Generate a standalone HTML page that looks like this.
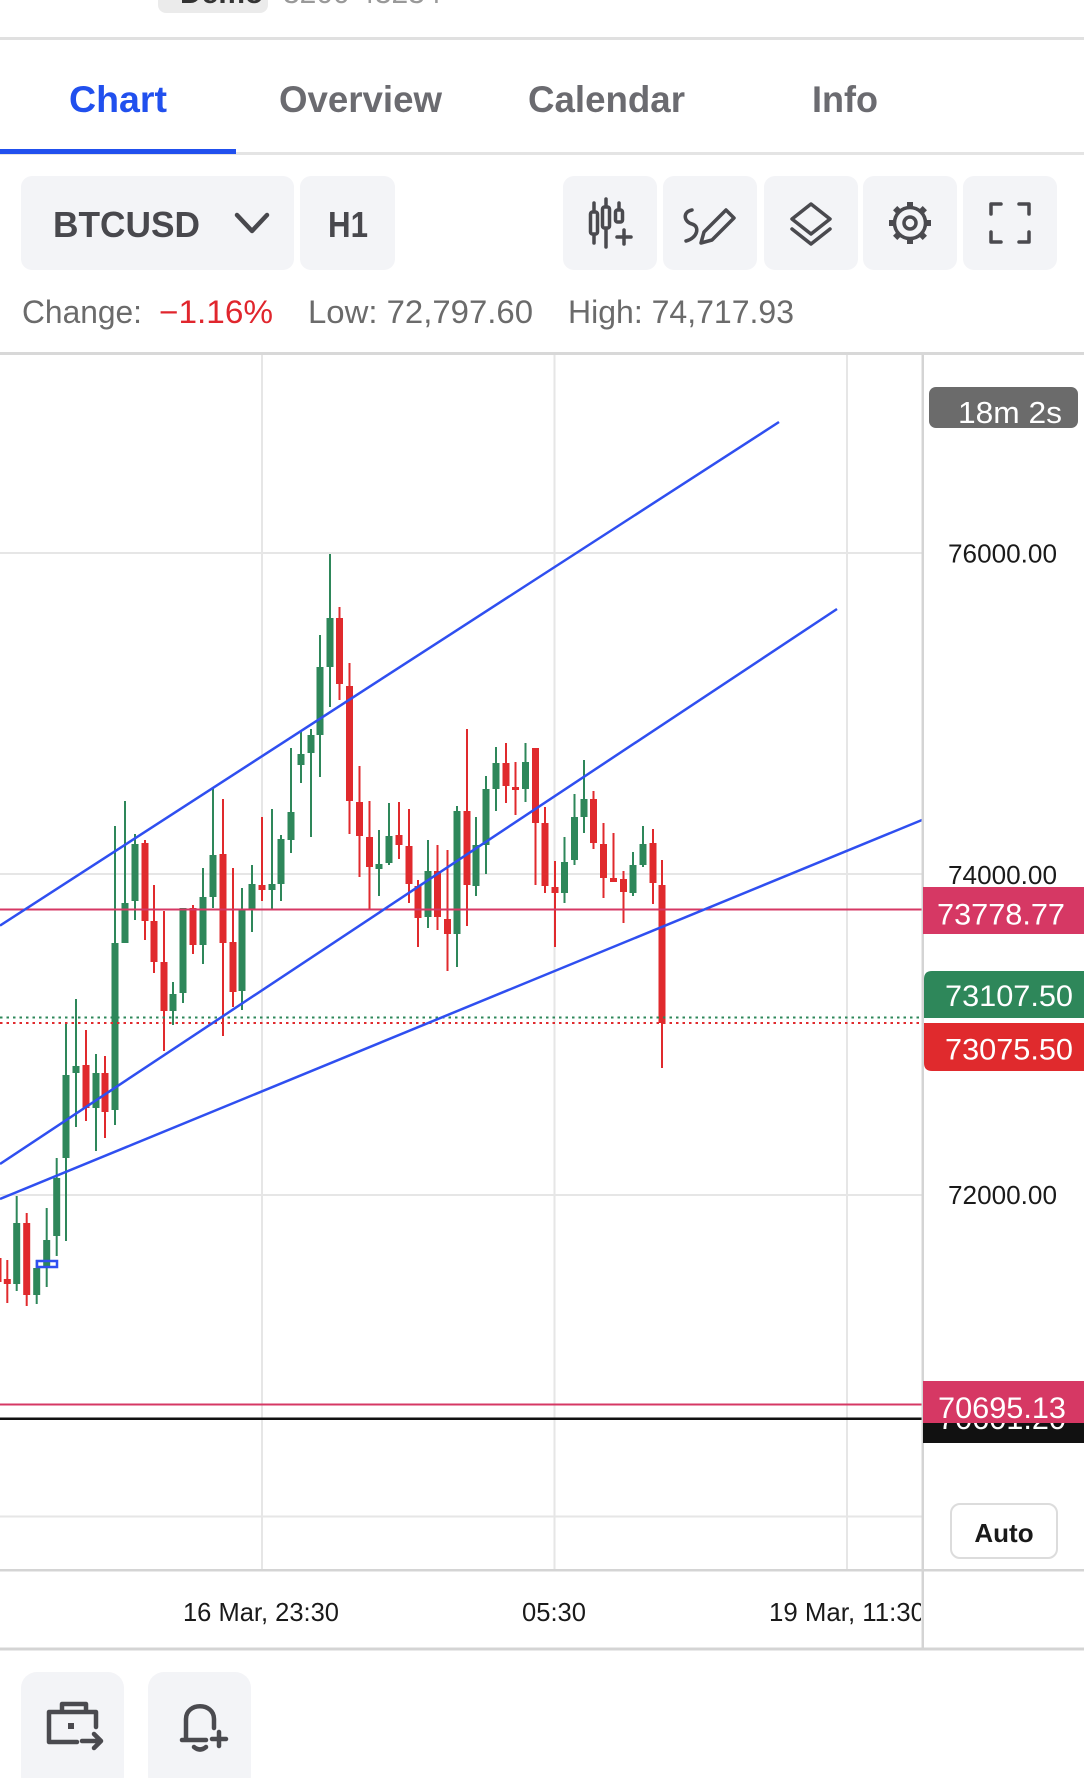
<!DOCTYPE html>
<html><head><meta charset="utf-8"><style>
html,body{margin:0;padding:0;background:#fff;}
svg{display:block;font-family:"Liberation Sans",Arial,sans-serif;}
</style></head><body>
<svg width="1084" height="1778" viewBox="0 0 1084 1778" xmlns="http://www.w3.org/2000/svg">
<rect x="0" y="0" width="1084" height="1778" fill="#fff"/>
<!-- top header remnants -->
<rect x="158" y="-12" width="110" height="25" rx="8" fill="#ebebeb"/>
<text x="180" y="3" font-size="30" font-weight="bold" fill="#333">Demo</text>
<text x="283" y="3" font-size="30" fill="#999">3200 43234</text>
<rect x="0" y="37" width="1084" height="3" fill="#e0e0e0"/>
<!-- tabs -->
<text x="69" y="112" font-size="37" font-weight="bold" fill="#2150ee" textLength="98" lengthAdjust="spacingAndGlyphs">Chart</text>
<text x="279" y="112" font-size="37" font-weight="bold" fill="#6b6b70" textLength="163" lengthAdjust="spacingAndGlyphs">Overview</text>
<text x="528" y="112" font-size="37" font-weight="bold" fill="#6b6b70" textLength="157" lengthAdjust="spacingAndGlyphs">Calendar</text>
<text x="812" y="112" font-size="37" font-weight="bold" fill="#6b6b70" textLength="66" lengthAdjust="spacingAndGlyphs">Info</text>
<rect x="0" y="152" width="1084" height="3" fill="#e4e4e4"/>
<rect x="0" y="149" width="236" height="5" fill="#2150ee"/>
<!-- toolbar -->
<rect x="21" y="176" width="273" height="94" rx="11" fill="#f3f4f7"/>
<text x="53" y="237" font-size="36" font-weight="bold" fill="#48484d" textLength="147" lengthAdjust="spacingAndGlyphs">BTCUSD</text>
<polyline points="237,215 252,231 267,215" fill="none" stroke="#48484d" stroke-width="4.5" stroke-linecap="round" stroke-linejoin="round"/>
<rect x="300" y="176" width="95" height="94" rx="11" fill="#f3f4f7"/>
<text x="328" y="237" font-size="36" font-weight="bold" fill="#48484d" textLength="40" lengthAdjust="spacingAndGlyphs">H1</text>
<rect x="563" y="176" width="94" height="94" rx="11" fill="#f3f4f7"/>
<rect x="663" y="176" width="94" height="94" rx="11" fill="#f3f4f7"/>
<rect x="764" y="176" width="94" height="94" rx="11" fill="#f3f4f7"/>
<rect x="863" y="176" width="94" height="94" rx="11" fill="#f3f4f7"/>
<rect x="963" y="176" width="94" height="94" rx="11" fill="#f3f4f7"/>
<g fill="none" stroke="#4a4a4f" stroke-width="3.5" stroke-linecap="round" stroke-linejoin="round">
  <!-- candles icon -->
  <line x1="594" y1="203" x2="594" y2="211"/><line x1="594" y1="235" x2="594" y2="243"/><rect x="590.5" y="212" width="7" height="22" rx="2"/>
  <line x1="606" y1="199" x2="606" y2="206"/><line x1="606" y1="229" x2="606" y2="247"/><rect x="602.5" y="207" width="7" height="21" rx="2"/>
  <line x1="619" y1="203" x2="619" y2="209"/><rect x="615.5" y="210" width="7" height="12" rx="2"/>
  <line x1="617" y1="237" x2="631" y2="237"/><line x1="624" y1="230" x2="624" y2="244"/>
  <!-- pencil icon -->
  <polygon points="701,243 704,232 726,210 734,218 712,240"/>
  <path d="M692 210 C682 212 684 222 692 224 C700 226 698 238 686 241"/>
  <!-- layers icon -->
  <polygon points="811,204 830,219 811,234 792,219"/>
  <polyline points="792,229 811,244 830,229"/>
  <!-- gear icon -->
  <circle cx="910" cy="223" r="15.5"/>
  <circle cx="910" cy="223" r="6"/>
  <!-- fullscreen icon -->
  <polyline points="991,214 991,204 1001,204"/>
  <polyline points="1019,204 1029,204 1029,214"/>
  <polyline points="991,232 991,242 1001,242"/>
  <polyline points="1019,242 1029,242 1029,232"/>
</g>
<g fill="#4a4a4f">
  <rect x="907" y="202" width="6" height="6" transform="rotate(0 910 223)"/>
  <rect x="907" y="202" width="6" height="6" transform="rotate(45 910 223)"/>
  <rect x="907" y="202" width="6" height="6" transform="rotate(90 910 223)"/>
  <rect x="907" y="202" width="6" height="6" transform="rotate(135 910 223)"/>
  <rect x="907" y="202" width="6" height="6" transform="rotate(180 910 223)"/>
  <rect x="907" y="202" width="6" height="6" transform="rotate(225 910 223)"/>
  <rect x="907" y="202" width="6" height="6" transform="rotate(270 910 223)"/>
  <rect x="907" y="202" width="6" height="6" transform="rotate(315 910 223)"/>
</g>
<!-- change row -->
<text x="22" y="323" font-size="32" fill="#6b6b6b" textLength="120" lengthAdjust="spacingAndGlyphs">Change:</text>
<text x="159" y="323" font-size="32" fill="#e0262d" textLength="114" lengthAdjust="spacingAndGlyphs">−1.16%</text>
<text x="308" y="323" font-size="32" fill="#6b6b6b" textLength="225" lengthAdjust="spacingAndGlyphs">Low: 72,797.60</text>
<text x="568" y="323" font-size="32" fill="#6b6b6b" textLength="226" lengthAdjust="spacingAndGlyphs">High: 74,717.93</text>
<!-- chart frame -->
<rect x="0" y="352" width="1084" height="3" fill="#d8d8d8"/>
<g fill="#e6e6e6">
  <rect x="261" y="355" width="2" height="1215"/>
  <rect x="553.5" y="355" width="2" height="1215"/>
  <rect x="846" y="355" width="2" height="1215"/>
  <rect x="0" y="552" width="922" height="2"/>
  <rect x="0" y="873" width="922" height="2"/>
  <rect x="0" y="1194" width="922" height="2"/>
  <rect x="0" y="1515.5" width="922" height="2"/>
</g>
<!-- candles green -->
<g fill="#2e875a">
<rect x="15.7" y="1196" width="2" height="95"/><rect x="13.2" y="1223" width="7" height="61"/>
<rect x="35.7" y="1260" width="2" height="44"/><rect x="33.2" y="1268" width="7" height="27"/>
<rect x="45.7" y="1208" width="2" height="79"/><rect x="43.2" y="1240" width="7" height="28"/>
<rect x="55.7" y="1158" width="2" height="98"/><rect x="53.2" y="1178" width="7" height="58"/>
<rect x="65" y="1024" width="2" height="217"/><rect x="62.5" y="1075" width="7" height="83"/>
<rect x="75" y="999" width="2" height="128"/><rect x="72.5" y="1066" width="7" height="7"/>
<rect x="95" y="1054" width="2" height="97"/><rect x="92.5" y="1073" width="7" height="35"/>
<rect x="114" y="826" width="2" height="299"/><rect x="111.5" y="943" width="7" height="167"/>
<rect x="124" y="801" width="2" height="142"/><rect x="121.5" y="903" width="7" height="40"/>
<rect x="134" y="834" width="2" height="86"/><rect x="131.5" y="844" width="7" height="57"/>
<rect x="172" y="982" width="2" height="43"/><rect x="169.5" y="994" width="7" height="17"/>
<rect x="182" y="908" width="2" height="95"/><rect x="179.5" y="908" width="7" height="85"/>
<rect x="202" y="868" width="2" height="96"/><rect x="199.5" y="897" width="7" height="48"/>
<rect x="212" y="788" width="2" height="120"/><rect x="209.5" y="855" width="7" height="42"/>
<rect x="241" y="888" width="2" height="122"/><rect x="238.5" y="910" width="7" height="81"/>
<rect x="251" y="865" width="2" height="67"/><rect x="248.5" y="884" width="7" height="26"/>
<rect x="271" y="809" width="2" height="101"/><rect x="268.5" y="884" width="7" height="6"/>
<rect x="280" y="835" width="2" height="66"/><rect x="277.5" y="839" width="7" height="45"/>
<rect x="290" y="748" width="2" height="105"/><rect x="287.5" y="812" width="7" height="28"/>
<rect x="300" y="732" width="2" height="51"/><rect x="297.5" y="754" width="7" height="11"/>
<rect x="310" y="729" width="2" height="108"/><rect x="307.5" y="735" width="7" height="18"/>
<rect x="319" y="635" width="2" height="142"/><rect x="316.5" y="667" width="7" height="68"/>
<rect x="329" y="554" width="2" height="153"/><rect x="326.5" y="618" width="7" height="49"/>
<rect x="378" y="830" width="2" height="66"/><rect x="375.5" y="864" width="7" height="5"/>
<rect x="388" y="803" width="2" height="62"/><rect x="385.5" y="836" width="7" height="27"/>
<rect x="427" y="840" width="2" height="88"/><rect x="424.5" y="871" width="7" height="46"/>
<rect x="456" y="806" width="2" height="161"/><rect x="453.5" y="811" width="7" height="123"/>
<rect x="475" y="817" width="2" height="79"/><rect x="472.5" y="845" width="7" height="41"/>
<rect x="485" y="776" width="2" height="98"/><rect x="482.5" y="789" width="7" height="56"/>
<rect x="495" y="747" width="2" height="64"/><rect x="492.5" y="763" width="7" height="26"/>
<rect x="524.5" y="743" width="2" height="59"/><rect x="522" y="762" width="7" height="27"/>
<rect x="563.5" y="837" width="2" height="66"/><rect x="561" y="862" width="7" height="31"/>
<rect x="573.5" y="794" width="2" height="71"/><rect x="571" y="817" width="7" height="43"/>
<rect x="583" y="760" width="2" height="73"/><rect x="580.5" y="799" width="7" height="18"/>
<rect x="632" y="852" width="2" height="44"/><rect x="629.5" y="865" width="7" height="28"/>
<rect x="642" y="826" width="2" height="41"/><rect x="639.5" y="844" width="7" height="21"/>
</g>
<!-- candles red -->
<g fill="#e02a2d">
<rect x="-3" y="1240" width="2" height="58"/><rect x="-5.5" y="1258" width="7" height="24"/>
<rect x="6.3" y="1260" width="2" height="43"/><rect x="3.8" y="1279" width="7" height="5"/>
<rect x="25.7" y="1213" width="2" height="93"/><rect x="23.2" y="1223" width="7" height="72"/>
<rect x="85" y="1030" width="2" height="91"/><rect x="82.5" y="1065" width="7" height="43"/>
<rect x="104" y="1056" width="2" height="82"/><rect x="101.5" y="1073" width="7" height="39"/>
<rect x="144" y="840" width="2" height="100"/><rect x="141.5" y="843" width="7" height="78"/>
<rect x="153" y="885" width="2" height="88"/><rect x="150.5" y="921" width="7" height="41"/>
<rect x="163" y="911" width="2" height="140"/><rect x="160.5" y="962" width="7" height="49"/>
<rect x="192" y="905" width="2" height="49"/><rect x="189.5" y="908" width="7" height="37"/>
<rect x="222" y="799" width="2" height="237"/><rect x="219.5" y="854" width="7" height="89"/>
<rect x="232" y="868" width="2" height="139"/><rect x="229.5" y="942" width="7" height="50"/>
<rect x="261" y="817" width="2" height="84"/><rect x="258.5" y="885" width="7" height="5"/>
<rect x="338.5" y="607" width="2" height="93"/><rect x="336" y="618" width="7" height="66"/>
<rect x="348.5" y="663" width="2" height="171"/><rect x="346" y="686" width="7" height="115"/>
<rect x="358.5" y="766" width="2" height="111"/><rect x="356" y="802" width="7" height="34"/>
<rect x="368.5" y="801" width="2" height="109"/><rect x="366" y="837" width="7" height="30"/>
<rect x="398" y="802" width="2" height="57"/><rect x="395.5" y="835" width="7" height="10"/>
<rect x="408" y="809" width="2" height="94"/><rect x="405.5" y="846" width="7" height="38"/>
<rect x="417" y="880" width="2" height="67"/><rect x="414.5" y="886" width="7" height="32"/>
<rect x="436.5" y="845" width="2" height="85"/><rect x="434" y="871" width="7" height="46"/>
<rect x="446.5" y="850" width="2" height="121"/><rect x="444" y="919" width="7" height="15"/>
<rect x="466" y="729" width="2" height="197"/><rect x="463.5" y="811" width="7" height="74"/>
<rect x="505" y="743" width="2" height="60"/><rect x="502.5" y="763" width="7" height="23"/>
<rect x="514.5" y="762" width="2" height="53"/><rect x="512" y="787" width="7" height="3"/>
<rect x="534.5" y="748" width="2" height="137"/><rect x="532" y="748" width="7" height="75"/>
<rect x="544" y="807" width="2" height="86"/><rect x="541.5" y="823" width="7" height="63"/>
<rect x="554" y="861" width="2" height="86"/><rect x="551.5" y="887" width="7" height="6"/>
<rect x="592.5" y="791" width="2" height="58"/><rect x="590" y="799" width="7" height="44"/>
<rect x="602.5" y="823" width="2" height="75"/><rect x="600" y="844" width="7" height="34"/>
<rect x="612.5" y="833" width="2" height="49"/><rect x="610" y="878" width="7" height="4"/>
<rect x="622.5" y="871" width="2" height="52"/><rect x="620" y="879" width="7" height="13"/>
<rect x="652" y="829" width="2" height="75"/><rect x="649.5" y="843" width="7" height="40"/>
<rect x="661" y="860" width="2" height="208"/><rect x="658.5" y="885" width="7" height="138"/>
</g>
<!-- horizontal level lines -->
<rect x="0" y="908.5" width="922" height="2" fill="#d63864"/>
<line x1="0" y1="1017.5" x2="922" y2="1017.5" stroke="#2e875a" stroke-width="2" stroke-dasharray="2.5 4"/>
<line x1="0" y1="1023" x2="922" y2="1023" stroke="#e02a2d" stroke-width="2" stroke-dasharray="2.5 4"/>
<rect x="0" y="1403.5" width="922" height="2" fill="#d63864"/>
<rect x="0" y="1417.5" width="922" height="2.5" fill="#111"/>
<!-- trend lines -->
<g stroke="#2f4ff0" stroke-width="2.5" fill="none">
  <line x1="0" y1="925.6" x2="779" y2="422"/>
  <line x1="0" y1="1164" x2="837" y2="609"/>
  <line x1="0" y1="1199" x2="922" y2="820"/>
  <rect x="37" y="1261" width="20" height="6"/>
</g>
<!-- price axis -->
<rect x="0" y="1569" width="1084" height="2.5" fill="#d4d4d4"/>
<rect x="921.5" y="355" width="2.5" height="1294" fill="#d4d4d4"/>
<rect x="929" y="387" width="149" height="41" rx="7" fill="#6b6b6b"/>
<text x="958" y="423" font-size="31" fill="#fff" textLength="104" lengthAdjust="spacingAndGlyphs">18m 2s</text>
<g font-size="26" fill="#1a1a1a">
  <text x="948" y="562.5" textLength="109" lengthAdjust="spacingAndGlyphs">76000.00</text>
  <text x="948" y="884" textLength="109" lengthAdjust="spacingAndGlyphs">74000.00</text>
  <text x="948" y="1204" textLength="109" lengthAdjust="spacingAndGlyphs">72000.00</text>
</g>
<rect x="923" y="887" width="161" height="47" fill="#d63864"/>
<text x="937" y="924.5" font-size="30" fill="#fff" textLength="128" lengthAdjust="spacingAndGlyphs">73778.77</text>
<path d="M932 971 H1084 V1018 H924 V979 Q924 971 932 971 Z" fill="#2e875a"/>
<text x="945" y="1006" font-size="30" fill="#fff" textLength="128" lengthAdjust="spacingAndGlyphs">73107.50</text>
<path d="M924 1023 H1084 V1071 H932 Q924 1071 924 1063 Z" fill="#e02a2d"/>
<text x="945" y="1059.5" font-size="30" fill="#fff" textLength="128" lengthAdjust="spacingAndGlyphs">73075.50</text>
<rect x="923" y="1397" width="161" height="46" fill="#111"/>
<text x="938" y="1429" font-size="30" fill="#fff" textLength="128" lengthAdjust="spacingAndGlyphs">70601.20</text>
<rect x="923" y="1381" width="161" height="42" fill="#d63864"/>
<text x="938" y="1418" font-size="30" fill="#fff" textLength="128" lengthAdjust="spacingAndGlyphs">70695.13</text>
<rect x="951" y="1504" width="106" height="54" rx="9" fill="#fff" stroke="#dcdcdc" stroke-width="2"/>
<text x="1004" y="1542" font-size="26" font-weight="bold" fill="#1a1a1a" text-anchor="middle">Auto</text>
<!-- time axis -->
<defs><clipPath id="tc"><rect x="0" y="1572" width="921" height="76"/></clipPath></defs>
<g font-size="26" fill="#1a1a1a" clip-path="url(#tc)">
  <text x="183" y="1621" textLength="156" lengthAdjust="spacingAndGlyphs">16 Mar, 23:30</text>
  <text x="522" y="1621" textLength="64" lengthAdjust="spacingAndGlyphs">05:30</text>
  <text x="769" y="1621" textLength="156" lengthAdjust="spacingAndGlyphs">19 Mar, 11:30</text>
</g>
<rect x="0" y="1647.5" width="1084" height="3" fill="#d4d4d4"/>
<!-- bottom buttons -->
<rect x="21" y="1672" width="103" height="120" rx="16" fill="#f3f4f7"/>
<rect x="148" y="1672" width="103" height="120" rx="16" fill="#f3f4f7"/>
<g fill="none" stroke="#4a4a4f" stroke-width="4.5" stroke-linecap="round" stroke-linejoin="round">
  <path d="M62 1711 V1704 H86 V1711"/>
  <path d="M96 1727 V1712 H49 V1742 H77"/>
  <path d="M82 1741 H100 M94 1734 L101 1741 L94 1748"/>
  <path d="M186 1739 V1719 C186 1702 214 1702 214 1719 V1728"/>
  <path d="M182 1740 H206"/>
  <path d="M194 1747 Q200 1752 206 1747"/>
  <path d="M212 1739 H226 M219 1732 V1746"/>
</g>
<rect x="68" y="1723" width="6" height="6" fill="#4a4a4f"/>
</svg>
</body></html>
